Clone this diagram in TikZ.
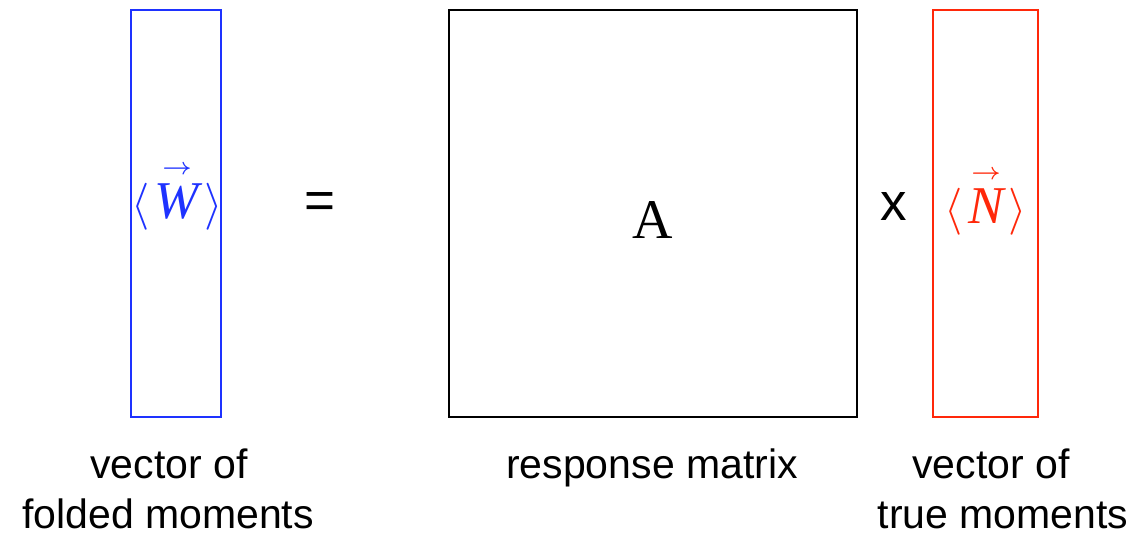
\documentclass[tikz,border=0pt]{standalone}
\usepackage{graphicx}
\usepackage{amsmath}
\usepackage{fontspec}
\setmainfont{Liberation Sans}
\newfontfamily\serifA{Liberation Serif}
\definecolor{vblue}{RGB}{30,50,255}
\definecolor{vred}{RGB}{255,40,10}
\newcommand{\vecsym}[1]{\scalebox{4.7}{$\langle\mkern2mu\overset{\scriptscriptstyle\rightarrow}{\mbox{\fontsize{11.3}{12}\selectfont\serifA\itshape #1}}\mkern2mu\rangle$}}
\begin{document}
\begin{tikzpicture}[x=1pt,y=-1pt,
  box/.style={draw,line width=2pt,inner sep=0pt},
  lbl/.style={anchor=base,inner sep=0pt,font=\fontsize{41}{50}\selectfont},
  vsym/.style={anchor=base,inner sep=0pt,font=\fontsize{10}{12}\selectfont},
  op/.style={inner sep=0pt,font=\fontsize{53}{60}\selectfont}]
\useasboundingbox (0,0) rectangle (1136,540);
\draw[box,vblue] (131,10) rectangle (221,417);
\draw[box,black,line width=1.6pt] (449,10) rectangle (857,417);
\draw[box,vred] (933,10) rectangle (1038,417);
\node[vsym,text=vblue] (w) at (177,219) {\vecsym{W}};
\node[vsym,text=vred] (n) at (986,224) {\vecsym{N}};
\node[anchor=base,inner sep=0pt,font=\fontsize{56}{60}\selectfont\serifA] (a) at (653,239) {A};
\node[op] (eq) at (320,206) {=};
\node[op,anchor=base] (x) at (894,221) {x};
\node[lbl] (l1a) at (169,478) {vector of};
\node[lbl] (l1b) at (168,528) {folded moments};
\node[lbl] (l2) at (652,478) {response matrix};
\node[lbl] (l3a) at (991,478) {vector of};
\node[lbl] (l3b) at (1003,528) {true moments};
\end{tikzpicture}
\end{document}
